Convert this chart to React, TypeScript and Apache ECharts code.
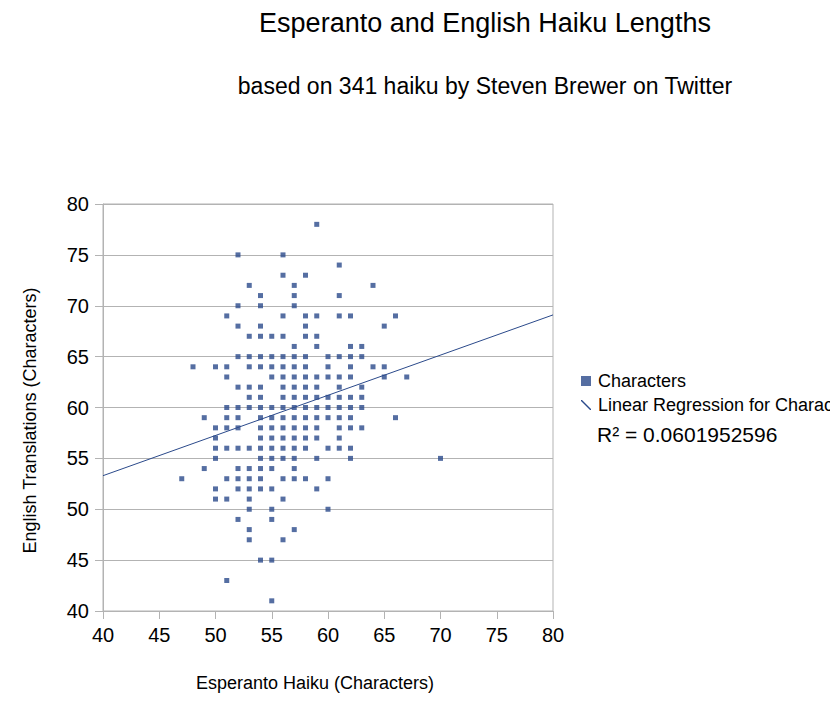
import React, { useEffect, useRef } from "react";
import * as echarts from "echarts";

// English length (y) followed by the Esperanto lengths (x) observed at that y
const haikuTop: [number, number[]][] = [
  [78, [59]],
  [75, [52, 56]],
  [74, [61]],
  [73, [56, 58]],
  [72, [53, 57, 64]],
  [71, [54, 57, 61]],
  [70, [52, 54, 57]],
  [69, [51, 56, 58, 59, 61, 62, 66]],
  [68, [52, 54, 58, 65]],
  [67, [53, 54, 55, 56, 58, 59]],
  [66, [57, 59, 62, 63]],
];
const haikuUpper: [number, number[]][] = [
  [65, [52, 53, 54, 55, 56, 57, 58, 60, 61, 62, 63]],
  [64, [48, 50, 51, 53, 54, 55, 56, 57, 58, 60, 62, 64, 65]],
  [63, [51, 55, 56, 57, 58, 59, 60, 61, 62, 65, 67]],
  [62, [52, 53, 54, 56, 57, 58, 59, 61, 63]],
  [61, [53, 54, 56, 57, 58, 59, 60, 61, 62, 63]],
];
const haikuMiddle: [number, number[]][] = [
  [60, [51, 52, 53, 54, 55, 56, 57, 58, 59, 60, 61, 62, 63]],
  [59, [49, 51, 52, 54, 55, 56, 57, 58, 59, 60, 61, 62, 66]],
  [58, [50, 51, 52, 54, 55, 56, 57, 58, 59, 61, 62, 63]],
  [57, [50, 54, 55, 56, 57, 58, 59, 61]],
  [56, [50, 51, 52, 53, 54, 55, 56, 57, 58, 60, 61, 62]],
];
const haikuLower: [number, number[]][] = [
  [55, [50, 54, 55, 56, 57, 59, 62, 70]],
  [54, [49, 52, 53, 54, 55, 57]],
  [53, [47, 51, 52, 53, 54, 56, 57, 58, 60]],
  [52, [50, 52, 53, 54, 55, 59]],
  [51, [50, 51, 53, 56]],
  [50, [53, 55, 60]],
  [49, [52, 55]],
  [48, [53, 57]],
  [47, [53, 56]],
  [45, [54, 55]],
  [43, [51]],
  [41, [55]],
];

// regression line end points
const regressionLine: [number, number][] = [
  [40, 53.3],
  [80, 69.1],
];
const rSquared = "R² = 0.0601952596";

const titleText = "Esperanto and English Haiku Lengths";
const subtitleText = "based on 341 haiku by Steven Brewer on Twitter";
const xName = "Esperanto Haiku (Characters)";
const yName = "English Translations (Characters)";
const seriesName = "Characters";
const regressionName = "Linear Regression for Characters";

const FONT = "'Liberation Sans', Arial, sans-serif";
const BLUE = "#2b4a8b";
const GRID = "#b3b3b3";

function buildPoints(): [number, number][] {
  const pts: [number, number][] = [];
  [haikuTop, haikuUpper, haikuMiddle, haikuLower].forEach((rows) => {
    rows.forEach(([y, xs]) => xs.forEach((x) => pts.push([x, y])));
  });
  return pts;
}

export default function App() {
  const ref = useRef<HTMLDivElement>(null);
  useEffect(() => {
    if (!ref.current) return;
    const chart = echarts.init(ref.current, undefined, { renderer: "svg" });
    chart.setOption({
      animation: false,
      backgroundColor: "#ffffff",
      textStyle: { fontFamily: FONT },
      title: [
        {
          text: titleText,
          left: 485,
          top: 9,
          padding: 0,
          textAlign: "center",
          textStyle: { fontFamily: FONT, fontSize: 27, fontWeight: "normal", color: "#000" },
        },
        {
          text: subtitleText,
          left: 485,
          top: 74,
          padding: 0,
          textAlign: "center",
          textStyle: { fontFamily: FONT, fontSize: 23, fontWeight: "normal", color: "#000" },
        },
      ],
      legend: {
        orient: "vertical",
        left: 581,
        top: 372,
        padding: 0,
        itemWidth: 10,
        itemHeight: 10,
        itemGap: 6,
        textStyle: { fontFamily: FONT, fontSize: 18, color: "#000", lineHeight: 18, padding: [0, 0, 0, 2] },
        data: [
          { name: seriesName, icon: "rect" },
          { name: regressionName, icon: "path://M0,0L1,0L10,9L10,10L9,10L0,1Z" },
        ],
      },
      graphic: [
        {
          type: "text",
          left: 597,
          top: 424,
          style: { text: rSquared, font: `21px ${FONT}`, fill: "#000" },
        },
      ],
      grid: {
        left: 103,
        right: 277,
        top: 204,
        bottom: 98,
        show: true,
        borderColor: GRID,
        borderWidth: 1,
      },
      xAxis: {
        type: "value",
        min: 40,
        max: 80,
        interval: 5,
        name: xName,
        nameLocation: "middle",
        nameGap: 63,
        nameTextStyle: { fontFamily: FONT, fontSize: 18, color: "#000", padding: [0, 26, 0, 0] },
        axisLine: { show: true, lineStyle: { color: GRID } },
        axisTick: { show: true, inside: false, length: 8, lineStyle: { color: GRID } },
        axisLabel: { fontFamily: FONT, fontSize: 20, color: "#000", margin: 14 },
        splitLine: { show: false },
      },
      yAxis: {
        type: "value",
        min: 40,
        max: 80,
        interval: 5,
        name: yName,
        nameLocation: "middle",
        nameGap: 64,
        nameRotate: 90,
        nameTextStyle: { fontFamily: FONT, fontSize: 18, color: "#000", padding: [0, 26, 0, 0] },
        axisLine: { show: true, lineStyle: { color: GRID } },
        axisTick: { show: true, inside: false, length: 8, lineStyle: { color: GRID } },
        axisLabel: { fontFamily: FONT, fontSize: 20, color: "#000", margin: 14 },
        splitLine: { show: true, lineStyle: { color: GRID, width: 1 } },
      },
      series: [
        {
          name: seriesName,
          type: "scatter",
          symbol: "rect",
          symbolSize: 5,
          itemStyle: { color: BLUE },
          data: buildPoints(),
          z: 3,
        },
        {
          name: regressionName,
          type: "line",
          data: regressionLine,
          showSymbol: false,
          symbol: "none",
          lineStyle: { color: BLUE, width: 1 },
          itemStyle: { color: BLUE },
          z: 2,
        },
      ],
    });
    return () => chart.dispose();
  }, []);
  return (
    <div
      ref={ref}
      style={{ position: "absolute", left: 0, top: 0, width: 830, height: 709, overflow: "hidden" }}
    />
  );
}
